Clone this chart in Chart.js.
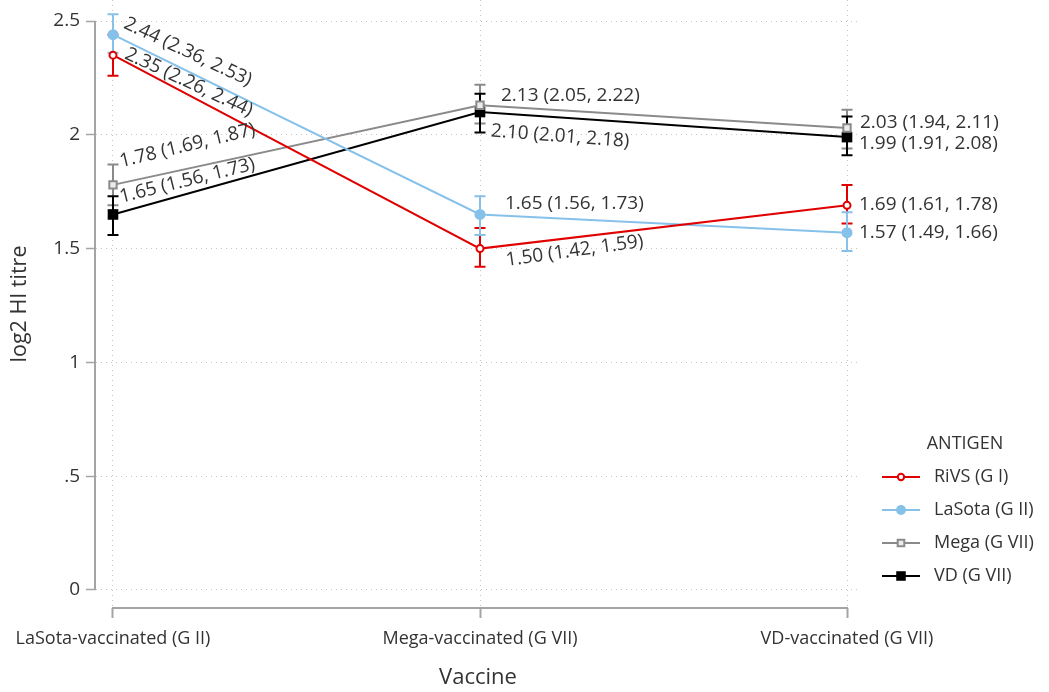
<!DOCTYPE html>
<html>
<head>
<meta charset="utf-8">
<script src="https://cdn.jsdelivr.net/npm/chart.js@4/dist/chart.umd.min.js"></script>
<style>
  html, body { margin: 0; padding: 0; background: #ffffff; }
  #wrap { width: 1049px; height: 692px; }
</style>
</head>
<body>
<div id="wrap"><canvas id="c" width="1049" height="692"></canvas></div>
<script>
// Vaccine groups along the x axis
const categories = ['LaSota-vaccinated (G II)', 'Mega-vaccinated (G VII)', 'VD-vaccinated (G VII)'];

// Antigens (one line each)
const seriesNames = ['RiVS (G I)', 'LaSota (G II)', 'Mega (G VII)', 'VD (G VII)'];

// Mean log2 HI titre with 95% CI, per vaccine group
const rivsMean   = [2.35, 1.50, 1.69];
const rivsLow    = [2.26, 1.42, 1.61];
const rivsHigh   = [2.44, 1.59, 1.78];

const lasotaMean = [2.44, 1.65, 1.57];
const lasotaLow  = [2.36, 1.56, 1.49];
const lasotaHigh = [2.53, 1.73, 1.66];

const megaMean   = [1.78, 2.13, 2.03];
const megaLow    = [1.69, 2.05, 1.94];
const megaHigh   = [1.87, 2.22, 2.11];

const vdMean     = [1.65, 2.10, 1.99];
const vdLow      = [1.56, 2.01, 1.91];
const vdHigh     = [1.73, 2.18, 2.08];

// y axis ticks
const yTickValues = [0, 0.5, 1, 1.5, 2, 2.5];
const yTickLabels = ['0', '.5', '1', '1.5', '2', '2.5'];

// ---- styling ----
const FONT = '"Open Sans", "DejaVu Sans", sans-serif';
const TEXT = '#333333';
const AXIS = '#a4a4a4';

const seriesStyle = [
  { color: '#e00000', pointStyle: 'circle', radius: 3.5, fill: '#ffffff', borderWidth: 2 },
  { color: '#86c1ea', pointStyle: 'circle', radius: 5.5, fill: '#86c1ea', borderWidth: 0 },
  { color: '#8a8a8a', pointStyle: 'rect',   radius: 5.2, fill: '#ececec', borderWidth: 2 },
  { color: '#000000', pointStyle: 'rect',   radius: 7.5, fill: '#000000', borderWidth: 0 }
];

// label placement per point: [dx, dy, angle in degrees]
const labelPlacement = [
  [[13, -2, 25],   [26, 12, -8],  [12, -1, 0]],
  [[12, -12, 25],  [25, -11, 0],  [12, 0, 0]],
  [[7, -23, -13.5], [21, -10, 0], [13, -5, 0]],
  [[7, -17, -14],  [11, 19, 4.4], [12, 7, 0]]
];

const means = [rivsMean, lasotaMean, megaMean, vdMean];
const lows  = [rivsLow, lasotaLow, megaLow, vdLow];
const highs = [rivsHigh, lasotaHigh, megaHigh, vdHigh];

const datasets = seriesNames.map((name, s) => ({
  label: name,
  data: means[s].map((v, i) => ({ x: i, y: v })),
  low: lows[s],
  high: highs[s],
  borderColor: seriesStyle[s].color,
  borderWidth: 2,
  backgroundColor: seriesStyle[s].fill,
  pointStyle: seriesStyle[s].pointStyle,
  pointRadius: seriesStyle[s].radius,
  pointBorderWidth: seriesStyle[s].borderWidth,
  pointBorderColor: seriesStyle[s].color,
  pointBackgroundColor: seriesStyle[s].fill,
  pointHoverRadius: seriesStyle[s].radius,
  tension: 0,
  fill: false
}));

// Stata-style axis lines that only span the tick range
const axisLines = {
  id: 'axisLines',
  beforeDatasetsDraw(chart) {
    const { ctx, scales: { x, y } } = chart;
    ctx.save();
    ctx.strokeStyle = AXIS;
    ctx.lineWidth = 2;
    ctx.beginPath();
    const ax = chart.chartArea.left - 1;
    ctx.moveTo(ax, y.getPixelForValue(yTickValues[0]));
    ctx.lineTo(ax, y.getPixelForValue(yTickValues[yTickValues.length - 1]));
    const ay = chart.chartArea.bottom;
    ctx.moveTo(x.getPixelForValue(0) - 1, ay);
    ctx.lineTo(x.getPixelForValue(categories.length - 1) + 1, ay);
    ctx.stroke();
    ctx.restore();
  }
};

// 95% CI error bars with caps
const errorBars = {
  id: 'errorBars',
  beforeDatasetsDraw(chart) {
    const { ctx, scales: { x, y } } = chart;
    ctx.save();
    ctx.lineWidth = 2;
    chart.data.datasets.forEach((ds) => {
      ctx.strokeStyle = ds.borderColor;
      ds.data.forEach((pt, i) => {
        const px = x.getPixelForValue(pt.x);
        const yl = y.getPixelForValue(ds.low[i]);
        const yh = y.getPixelForValue(ds.high[i]);
        const cap = 5.5;
        ctx.beginPath();
        ctx.moveTo(px, yl); ctx.lineTo(px, yh);
        ctx.moveTo(px - cap, yl); ctx.lineTo(px + cap, yl);
        ctx.moveTo(px - cap, yh); ctx.lineTo(px + cap, yh);
        ctx.stroke();
      });
    });
    ctx.restore();
  }
};

// "mean (low, high)" labels next to each point
const valueLabels = {
  id: 'valueLabels',
  afterDatasetsDraw(chart) {
    const { ctx, scales: { x, y } } = chart;
    ctx.save();
    ctx.font = '19px ' + FONT;
    ctx.fillStyle = TEXT;
    ctx.textAlign = 'left';
    ctx.textBaseline = 'middle';
    chart.data.datasets.forEach((ds, s) => {
      ds.data.forEach((pt, i) => {
        const [dx, dy, ang] = labelPlacement[s][i];
        const text = pt.y.toFixed(2) + ' (' + ds.low[i].toFixed(2) + ', ' + ds.high[i].toFixed(2) + ')';
        ctx.save();
        ctx.translate(x.getPixelForValue(pt.x) + dx, y.getPixelForValue(pt.y) + dy);
        ctx.rotate(ang * Math.PI / 180);
        ctx.fillText(text, 0, 0);
        ctx.restore();
      });
    });
    ctx.restore();
  }
};

// Legend with title, line + marker swatches
const antigenLegend = {
  id: 'antigenLegend',
  afterDraw(chart) {
    const { ctx } = chart;
    ctx.save();
    ctx.fillStyle = TEXT;
    ctx.font = '18px ' + FONT;
    ctx.textAlign = 'center';
    ctx.textBaseline = 'middle';
    ctx.fillText('ANTIGEN', 965, 444);
    chart.data.datasets.forEach((ds, s) => {
      const yy = 477 + s * 33;
      ctx.strokeStyle = ds.borderColor;
      ctx.lineWidth = 2;
      ctx.beginPath();
      ctx.moveTo(882, yy); ctx.lineTo(920, yy);
      ctx.stroke();
      ctx.fillStyle = ds.pointBackgroundColor;
      ctx.strokeStyle = ds.pointBorderColor;
      ctx.lineWidth = ds.pointBorderWidth;
      Chart.helpers.drawPoint(ctx, {
        pointStyle: ds.pointStyle,
        radius: ds.pointRadius * 0.9,
        borderWidth: ds.pointBorderWidth,
        rotation: 0
      }, 901, yy);
      ctx.fillStyle = TEXT;
      ctx.textAlign = 'left';
      ctx.fillText(ds.label, 934, yy);
    });
    ctx.restore();
  }
};

const yMin = -0.0791, yMax = 2.5923;
const xMin = -0.0463, xMax = 2.0354;

new Chart(document.getElementById('c'), {
  type: 'line',
  data: { datasets },
  plugins: [axisLines, errorBars, valueLabels, antigenLegend],
  options: {
    responsive: false,
    animation: false,
    events: [],
    layout: { autoPadding: false, padding: { left: 0, right: 189, top: 0, bottom: 0 } },
    plugins: { legend: { display: false }, tooltip: { enabled: false } },
    scales: {
      x: {
        type: 'linear',
        min: xMin,
        max: xMax,
        afterFit(scale) {
          scale.height = 84;
          scale.paddingLeft = 0; scale.paddingRight = 0;
        },
        afterBuildTicks(scale) { scale.ticks = categories.map((c, i) => ({ value: i })); },
        ticks: {
          callback: (v) => categories[v],
          font: { family: FONT, size: 18 },
          color: TEXT,
          padding: 10,
          maxRotation: 0,
          autoSkip: false
        },
        grid: {
          color: '#c4c4c4',
          lineWidth: 1,
          drawTicks: true,
          tickLength: 10,
          tickColor: AXIS,
          tickWidth: 2,
          tickBorderDash: []
        },
        border: { display: false, dash: [1, 4] },
        title: {
          display: true,
          text: 'Vaccine',
          font: { family: FONT, size: 22 },
          color: TEXT,
          padding: { top: 0, bottom: 1 }
        }
      },
      y: {
        type: 'linear',
        min: yMin,
        max: yMax,
        afterFit(scale) {
          scale.width = 96;
          scale.paddingTop = 0; scale.paddingBottom = 0;
        },
        afterBuildTicks(scale) { scale.ticks = yTickValues.map((v) => ({ value: v })); },
        ticks: {
          callback: (v) => yTickLabels[yTickValues.indexOf(v)],
          font: { family: FONT, size: 19 },
          color: TEXT,
          padding: 6
        },
        grid: {
          color: '#c4c4c4',
          lineWidth: 1,
          drawTicks: true,
          tickLength: 10,
          tickColor: AXIS,
          tickWidth: 1.5,
          tickBorderDash: []
        },
        border: { display: false, dash: [1, 4] },
        title: {
          display: true,
          text: 'log2 HI titre',
          font: { family: FONT, size: 21.5 },
          color: TEXT,
          padding: { top: 7, bottom: 0 }
        }
      }
    }
  }
});
</script>
</body>
</html>
